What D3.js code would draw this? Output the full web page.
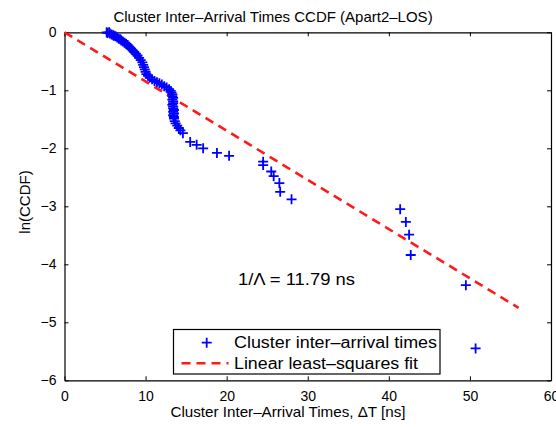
<!DOCTYPE html>
<html>
<head>
<meta charset="utf-8">
<script src="https://cdn.jsdelivr.net/npm/d3@7"></script>
<style>
  body { margin: 0; background: #fff; }
  svg text { font-family: "Liberation Sans", Arial, sans-serif; fill: #000; }
</style>
</head>
<body>
<div id="chart"></div>
<script>
let arrivalTimes = [5.2, 5.3, 5.5, 5.6, 5.8, 6.0, 6.1, 6.3, 6.5, 6.7, 6.9, 7.0, 7.2, 7.4, 7.6, 7.8,
  8.0, 8.2, 8.4, 8.6, 8.8, 9.0, 9.2, 9.4, 9.6, 9.7, 9.8, 9.9, 10.0, 10.1, 10.3, 10.5, 10.8, 11.1,
  11.4, 11.7, 12.0, 12.3, 12.6, 12.9, 13.1, 13.2, 13.3, 13.3, 13.4, 13.3, 13.4, 13.4, 13.3, 13.4,
  13.4, 13.5, 13.4, 13.5, 13.4, 13.5, 13.5, 13.6, 13.7, 13.9, 14.1, 14.3, 14.6, 15.5, 16.3, 17.1,
  18.8, 20.3, 24.5, 24.5, 25.5, 25.8, 26.5, 26.6, 28.0, 41.4, 42.1, 42.5, 42.7, 49.5, 50.7];
let lnCcdf = [0, -0.01, 0, -0.02, -0.04, -0.05, -0.06, -0.07, -0.09, -0.11, -0.12, -0.14, -0.16,
  -0.18, -0.20, -0.22, -0.25, -0.28, -0.31, -0.34, -0.37, -0.40, -0.44, -0.48, -0.52, -0.56, -0.60,
  -0.64, -0.68, -0.72, -0.75, -0.78, -0.81, -0.84, -0.86, -0.88, -0.90, -0.93, -0.95, -0.98, -1.01,
  -1.04, -1.07, -1.10, -1.13, -1.16, -1.19, -1.22, -1.25, -1.28, -1.31, -1.34, -1.37, -1.40, -1.43,
  -1.46, -1.49, -1.53, -1.57, -1.61, -1.65, -1.69, -1.74, -1.89, -1.94, -2.00, -2.08, -2.13, -2.23,
  -2.29, -2.40, -2.48, -2.60, -2.75, -2.88, -3.05, -3.27, -3.49, -3.84, -4.36, -5.45];

// linear least-squares fit end points
let fitX = [0, 56];
let fitY = [0, -4.75];

let xTicks = [0, 10, 20, 30, 40, 50, 60];
let yTicks = [0, -1, -2, -3, -4, -5, -6];

let svg = d3.select("#chart").append("svg")
    .attr("width", 556)
    .attr("height", 427);

let x = d3.scaleLinear().domain([0, 60]).range([64.5, 551]);
let y = d3.scaleLinear().domain([-6, 0]).range([380.3, 32.3]);

let fmt = d => (d < 0 ? "\u2212" + Math.abs(d) : d);

// axes, ticks pointing inward like matlab
let axes = [
  [d3.axisBottom(x).tickValues(xTicks).tickFormat(fmt), y(-6), 0, 11],
  [d3.axisTop(x).tickValues(xTicks).tickFormat(""), y(0), 0, 7],
  [d3.axisLeft(y).tickValues(yTicks).tickFormat(fmt), 0, x(0), 8],
  [d3.axisRight(y).tickValues(yTicks).tickFormat(""), 0, x(60), 7]
];
axes.forEach(a => {
  let g = svg.append("g")
    .attr("transform", "translate(" + a[2] + "," + a[1] + ")")
    .call(a[0].tickSizeInner(-4).tickSizeOuter(0).tickPadding(a[3]));
  g.select(".domain").attr("stroke", "#000").attr("stroke-width", 1.2);
  g.selectAll(".tick line").attr("stroke", "#000");
  g.selectAll("text").style("font-size", "14px").attr("fill", "#000");
});

// fit line
let line = d3.line().x(d => x(d[0])).y(d => y(d[1]));
svg.append("path")
  .datum(d3.zip(fitX, fitY))
  .attr("d", line)
  .attr("fill", "none")
  .attr("stroke", "#ff1a1a")
  .attr("stroke-width", 2.6)
  .attr("stroke-dasharray", "9,6");

// plus markers
let markerPath = "M-5,0H5M0,-5V5";
svg.append("g").selectAll("path")
  .data(d3.zip(arrivalTimes, lnCcdf))
  .join("path")
  .attr("transform", d => "translate(" + x(d[0]) + "," + y(d[1]) + ")")
  .attr("d", markerPath)
  .attr("stroke", "#0000ff")
  .attr("stroke-width", 1.8)
  .attr("fill", "none");

// legend
let lg = svg.append("g");
lg.append("rect")
  .attr("x", 173.5).attr("y", 329.5)
  .attr("width", 266.5).attr("height", 44.5)
  .attr("fill", "#fff").attr("stroke", "#000").attr("stroke-width", 1.2);
lg.append("path")
  .attr("transform", "translate(206.7,342.7)")
  .attr("d", markerPath)
  .attr("stroke", "#0000ff").attr("stroke-width", 1.8);
lg.append("line")
  .attr("x1", 181.5).attr("x2", 228.5)
  .attr("y1", 363.3).attr("y2", 363.3)
  .attr("stroke", "#ff1a1a").attr("stroke-width", 2.6)
  .attr("stroke-dasharray", "9,6");
lg.append("text").attr("x", 234).attr("y", 348.3)
  .attr("textLength", 203).attr("lengthAdjust", "spacingAndGlyphs")
  .style("font-size", "16px").text("Cluster inter\u2013arrival times");
lg.append("text").attr("x", 234).attr("y", 369)
  .attr("textLength", 184).attr("lengthAdjust", "spacingAndGlyphs")
  .style("font-size", "16px").text("Linear least\u2013squares fit");

// annotation
svg.append("text").attr("x", 238).attr("y", 284.6)
  .attr("textLength", 117).attr("lengthAdjust", "spacingAndGlyphs")
  .style("font-size", "16px").text("1/\u039b = 11.79 ns");

// title and axis labels
svg.append("text").attr("x", 273).attr("y", 22)
  .attr("text-anchor", "middle").style("font-size", "15px")
  .text("Cluster Inter\u2013Arrival Times CCDF (Apart2\u2013LOS)");
svg.append("text").attr("x", 288).attr("y", 417)
  .attr("text-anchor", "middle").style("font-size", "14.5px")
  .attr("textLength", 235).attr("lengthAdjust", "spacingAndGlyphs")
  .text("Cluster Inter\u2013Arrival Times, \u0394T [ns]");
svg.append("text")
  .attr("transform", "translate(30,202) rotate(-90)")
  .attr("text-anchor", "middle").style("font-size", "15px")
  .text("ln(CCDF)");
</script>
</body>
</html>
